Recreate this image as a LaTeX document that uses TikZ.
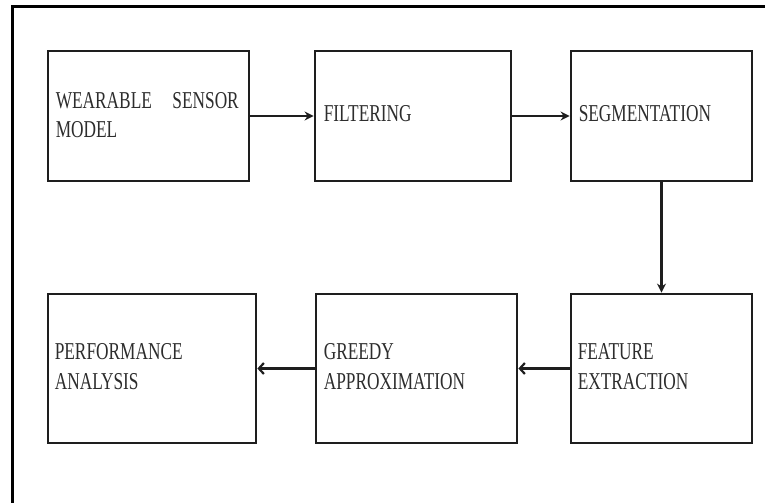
\documentclass[tikz,border=0pt]{standalone}
\usepackage{fontspec}
\setmainfont{Liberation Serif}
\usetikzlibrary{arrows.meta}
\definecolor{boxline}{RGB}{30,30,30}
\definecolor{txt}{RGB}{45,45,45}
\newcommand\vstr[1]{\scalebox{1}[1.4]{\fontsize{17.3}{21}\selectfont\begin{tabular}{@{}l@{}}#1\end{tabular}}}
\begin{document}
\begin{tikzpicture}[x=1pt,y=-1pt,
  blk/.style={draw=boxline, line width=2.8pt, rectangle, inner sep=0pt, minimum height=#1},
  blk/.default=130pt,
  lbl/.style={anchor=west, inner sep=0pt, text=txt},
  conn/.style={draw=boxline, line width=2.6pt},
  topar/.style={conn, -{Stealth[length=9pt,width=9pt]}},
  botar/.style={conn, -{Straight Barb[length=5pt,width=11pt,line width=2.2pt]}}]
\useasboundingbox (0,0) rectangle (765,503);
\fill[white] (0,0) rectangle (765,503);
\draw[line width=3pt] (765,7) -- (12,7) -- (12,503);
% top row
\node[blk, minimum width=201pt] (b1) at (148.5,116) {};
\node[blk, minimum width=196pt] (b2) at (413,116) {};
\node[blk, minimum width=181pt] (b3) at (661.5,116) {};
% bottom row
\node[blk=149pt, minimum width=208pt] (b4) at (152,368.5) {};
\node[blk=149pt, minimum width=201pt] (b5) at (416.5,368.5) {};
\node[blk=149pt, minimum width=181pt] (b6) at (661.5,368.5) {};
% labels
\node[lbl] (t1) at ([xshift=9pt,yshift=-1pt]b1.west) {\vstr{\makebox[183pt][s]{WEARABLE\hfill SENSOR}\\MODEL}};
\node[lbl] (t2) at ([xshift=10pt]b2.west) {\vstr{FILTERING}};
\node[lbl] (t3) at ([xshift=9pt]b3.west) {\vstr{SEGMENTATION}};
\node[lbl] (t4) at ([xshift=8pt]b4.west) {\vstr{PERFORMANCE\\ANALYSIS}};
\node[lbl] (t5) at ([xshift=9pt]b5.west) {\vstr{GREEDY\\APPROXIMATION}};
\node[lbl] (t6) at ([xshift=8pt]b6.west) {\vstr{FEATURE\\EXTRACTION}};
% connectors
\draw[topar] (b1.east) -- (b2.west);
\draw[topar] (b2.east) -- (b3.west);
\draw[topar] (b3.south) -- (b6.north);
\draw[botar] (b6.west) -- (b5.east);
\draw[botar] (b5.west) -- (b4.east);
\end{tikzpicture}
\end{document}
